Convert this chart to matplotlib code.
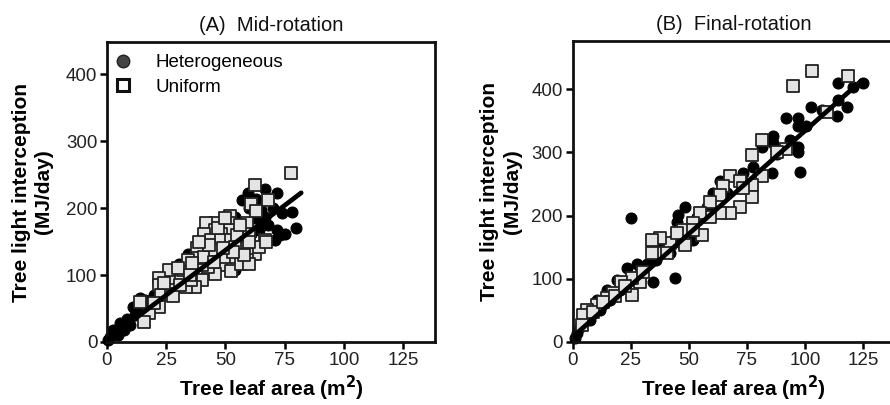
import matplotlib.pyplot as plt
from matplotlib.lines import Line2D

plt.rcParams['font.family'] = ['Liberation Sans', 'DejaVu Sans']

# (A) Mid-rotation -- leaf area (m2), light interception (MJ/day)
a_het_x = [79.6, 78, 74, 75, 71.8, 71, 71.8, 66.8, 59.7, 63, 57, 65, 66.8, 62.7, 54,
           40.5, 34, 30.5, 28, 22.8, 14, 11, 8.4, 5.6, 2.7, 1.3, 0.6, 3.4, 9.8, 12,
           17, 20, 25.5, 32, 37, 42.6, 48, 52.6, 57, 61, 65.4, 54, 64, 4.8, 7,
           60, 68, 73, 70, 62, 50, 44, 36, 26, 18, 16, 13]
a_het_y = [170, 194, 192, 162, 167, 152, 223, 229, 222, 213, 212, 197, 187, 202, 187,
           162, 132, 117, 102, 88, 65, 53, 35, 28, 18, 8, 3, 13, 25, 40,
           58, 70, 83, 97, 112, 122, 132, 142, 152, 162, 177, 107, 167, 10, 18,
           200, 175, 160, 200, 185, 130, 125, 108, 75, 50, 62, 45]
a_uni_x = [77.5, 62.7, 61, 68, 52, 45.5, 42, 52, 45.5, 52, 48, 59, 41, 38, 44, 48, 52.5,
           60, 62.7, 59, 57, 54, 66.8, 64, 60, 67, 48, 52.5, 45.5, 42.5, 40, 37, 40,
           34, 30, 33.5, 28, 26, 26, 22, 22, 23, 27, 32, 22, 17.6, 15.5, 14, 38, 34,
           41, 35.5, 28, 20, 45.5, 50, 54.5, 56.5, 60,
           30, 35, 43, 47, 50, 55, 58, 39, 45, 53, 36, 24, 31, 49, 56, 63]
a_uni_y = [252, 235, 206, 212, 188, 178, 178, 178, 167, 167, 162, 178, 162, 140, 152, 152, 152,
           162, 132, 122, 140, 142, 152, 142, 150, 150, 115, 106, 102, 112, 92, 82, 115,
           112, 97, 82, 82, 95, 107, 95, 85, 70, 72, 107, 53, 43, 30, 60, 125, 122,
           127, 92, 68, 58, 137, 127, 127, 117, 117,
           110, 100, 145, 170, 185, 160, 130, 150, 120, 135, 118, 88, 85, 140, 175, 195]
a_fit = (2.68, 3.0)      # slope, intercept
a_fit_x = [0, 82]

# (B) Final-rotation
b_het_x = [125, 114.3, 118, 113.6, 114.3, 102.8, 97, 97, 97, 97, 98, 92, 86.3, 86.3,
           85.6, 81.4, 63.4, 60.5, 48.3, 45.5, 44.9, 45.5, 52, 46.5, 44, 34.7, 27.5,
           25.1, 31.8, 37.6, 41.9, 43.3, 23.2, 19, 14.6, 10.3, 6, 1.7, 1, 3.2, 7.5,
           11.8, 16, 20.4, 29, 36, 40.4, 53.4, 57.7, 66.3, 73.4, 77.7, 87.8, 93.5,
           100.4, 107.5, 120.8]
b_het_y = [409, 409, 372, 357, 383, 371, 354, 341, 309, 301, 269, 355, 325, 314,
           267, 309, 254, 235, 214, 201, 190, 177, 161, 156, 101, 95, 124,
           196, 124, 151, 140, 161, 117, 98, 82, 66, 45, 14, 6, 24, 35,
           51, 66, 82, 109, 130, 148, 198, 214, 235, 267, 277, 298, 320,
           341, 367, 404]
b_uni_x = [103, 94.7, 118.6, 109.3, 92, 87.8, 81.6, 81.6, 77, 77, 77, 72, 67.7, 72,
           64.8, 67.7, 63.4, 63.4, 59, 59, 55.5, 55, 52, 47.6, 48.3, 41.9, 37.6, 36,
           34, 34, 29, 25.4, 25.4, 21, 17.5, 14.6, 10.3, 6, 4.6, 3.9, 8.9, 13.2,
           18.2, 22.5, 30.4, 40.4, 44.7, 52, 73.4]
b_uni_y = [429, 405, 421, 364, 305, 301, 320, 263, 296, 248, 230, 214, 262, 254,
           246, 204, 204, 233, 222, 198, 169, 204, 188, 177, 153, 156, 164, 140,
           140, 161, 95, 74, 101, 95, 77, 69, 58, 51, 43, 27, 48, 64,
           72, 88, 111, 140, 172, 177, 243]
b_fit = (3.26, 8.0)
b_fit_x = [0, 124.5]

fig = plt.figure(figsize=(8.9, 4.05), dpi=100)
axA = fig.add_axes([107 / 890, 63 / 405, 328 / 890, 300 / 405])
axB = fig.add_axes([572.7 / 890, 63 / 405, 321.7 / 890, 301 / 405])

panels = [
    (axA, '(A)  Mid-rotation', a_het_x, a_het_y, a_uni_x, a_uni_y, a_fit, a_fit_x, 448, 9),
    (axB, '(B)  Final-rotation', b_het_x, b_het_y, b_uni_x, b_uni_y, b_fit, b_fit_x, 476, 7),
]

for ax, title, hx, hy, ux, uy, fit, fx, ytop, ypad in panels:
    ax.scatter(hx, hy, s=62, marker='o', facecolor='black', edgecolor='black',
               linewidth=0.8, zorder=2, clip_on=False)
    ax.scatter(ux, uy, s=78, marker='s', facecolor='#e4e4e4', edgecolor='#222222',
               linewidth=1.3, zorder=3, clip_on=False)
    ax.plot(fx, [fit[0] * v + fit[1] for v in fx], color='black', lw=3.4,
            solid_capstyle='round', zorder=4)
    ax.set_xlim(0, 138.5)
    ax.set_ylim(0, ytop)
    ax.set_xticks([0, 25, 50, 75, 100, 125])
    ax.set_yticks([0, 100, 200, 300, 400])
    for sp in ax.spines.values():
        sp.set_linewidth(2.0)
        sp.set_color('#111111')
    ax.tick_params(direction='out', length=5, width=1.8, labelsize=13.5,
                   labelcolor='#222222', pad=2)
    ax.set_title(title, fontsize=14.5, pad=8, color='#111111')
    ax.set_xlabel('Tree leaf area (m$^\\mathbf{2}$)', fontsize=15,
                  fontweight='bold', labelpad=4)
    ax.set_ylabel('Tree light interception\n(MJ/day)', fontsize=15,
                  fontweight='bold', labelpad=ypad, linespacing=1.25)

handles = [
    Line2D([], [], marker='o', linestyle='none', markersize=9,
           markerfacecolor='#444444', markeredgecolor='#222222'),
    Line2D([], [], marker='s', linestyle='none', markersize=9,
           markerfacecolor='white', markeredgecolor='#111111', markeredgewidth=2.2),
]
axA.legend(handles, ['Heterogeneous', 'Uniform'], loc='upper left', frameon=False,
           fontsize=13.5, handlelength=0.9, handletextpad=1.3, labelspacing=0.4,
           borderaxespad=0.2, borderpad=0.2, bbox_to_anchor=(0.0, 0.985))

fig.savefig('out.png', dpi=100)
plt.close()
